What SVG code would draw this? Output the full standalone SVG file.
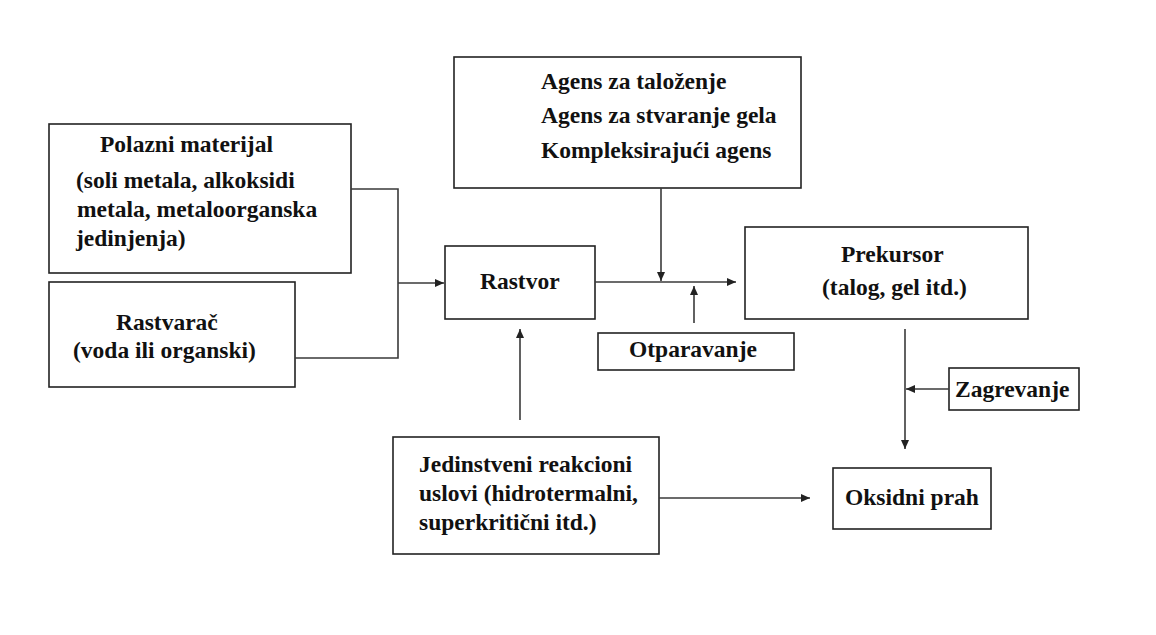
<svg xmlns="http://www.w3.org/2000/svg" width="1156" height="635" viewBox="0 0 1156 635">
<style>
.box{fill:#fff;stroke:#222;stroke-width:1.6}
.t{font-family:"Liberation Serif","Times New Roman",serif;font-weight:bold;font-size:23.5px;fill:#111}
.c{fill:none;stroke:#3a3a3a;stroke-width:1.6}
</style>
<defs>
<marker id="ah" markerUnits="userSpaceOnUse" markerWidth="10" markerHeight="10" refX="9" refY="4" orient="auto">
<path d="M0,0 L9,4 L0,8 z" fill="#222"/>
</marker>
</defs>
<rect width="1156" height="635" fill="#fff"/>
<g id="polazni">
<rect class="box" x="49" y="124" width="302" height="149"/>
<text class="t" x="100" y="152">Polazni materijal</text>
<text class="t" x="76" y="188">(soli metala, alkoksidi</text>
<text class="t" x="77" y="217">metala, metaloorganska</text>
<text class="t" x="76" y="246">jedinjenja)</text>
</g>
<g id="rastvarac">
<rect class="box" x="49" y="282" width="246" height="105"/>
<text class="t" x="116" y="330">Rastvarač</text>
<text class="t" x="73" y="358">(voda ili organski)</text>
</g>
<g id="agens">
<rect class="box" x="454" y="57" width="347" height="131"/>
<text class="t" x="541" y="89">Agens za taloženje</text>
<text class="t" x="541" y="123">Agens za stvaranje gela</text>
<text class="t" x="541" y="158">Kompleksirajući agens</text>
</g>
<g id="rastvor">
<rect class="box" x="445" y="246" width="150" height="73"/>
<text class="t" x="480" y="289">Rastvor</text>
</g>
<g id="prekursor">
<rect class="box" x="745" y="227" width="283" height="92"/>
<text class="t" x="841" y="262">Prekursor</text>
<text class="t" x="822" y="295">(talog, gel itd.)</text>
</g>
<g id="otparavanje">
<rect class="box" x="598" y="333" width="196" height="37"/>
<text class="t" x="629" y="357">Otparavanje</text>
</g>
<g id="zagrevanje">
<rect class="box" x="949" y="368" width="130" height="42"/>
<text class="t" x="955" y="397">Zagrevanje</text>
</g>
<g id="jedinstveni">
<rect class="box" x="393" y="437" width="266" height="117"/>
<text class="t" x="419" y="472">Jedinstveni reakcioni</text>
<text class="t" x="419" y="501">uslovi (hidrotermalni,</text>
<text class="t" x="419" y="530">superkritični itd.)</text>
</g>
<g id="oksidni">
<rect class="box" x="833" y="468" width="158" height="61"/>
<text class="t" x="845" y="505">Oksidni prah</text>
</g>
<g id="connectors">
<path class="c" d="M351,189 H398 V358 H295"/>
<path class="c" d="M398,283 H444" marker-end="url(#ah)"/>
<path class="c" d="M595,282 H736" marker-end="url(#ah)"/>
<path class="c" d="M661,188 V281" marker-end="url(#ah)"/>
<path class="c" d="M694,323 V286" marker-end="url(#ah)"/>
<path class="c" d="M520,420 V329" marker-end="url(#ah)"/>
<path class="c" d="M905,329 V449" marker-end="url(#ah)"/>
<path class="c" d="M949,389 H906" marker-end="url(#ah)"/>
<path class="c" d="M659,498 H810" marker-end="url(#ah)"/>
</g>
</svg>
